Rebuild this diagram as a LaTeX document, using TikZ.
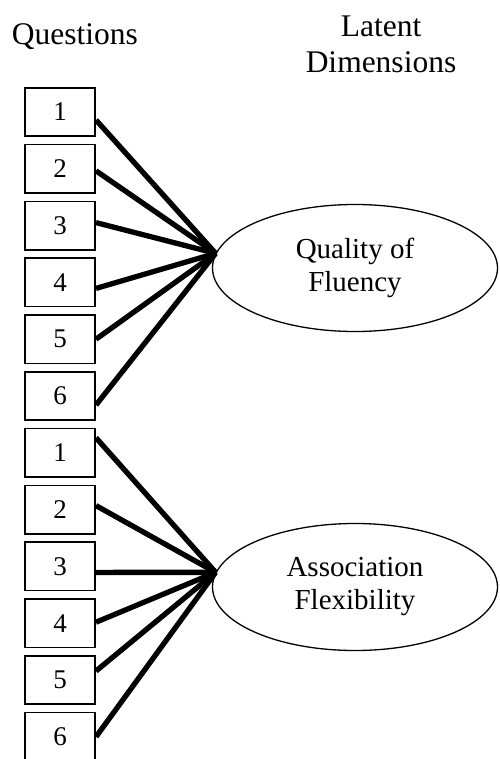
\documentclass[tikz,border=0pt]{standalone}
\usepackage{fontspec}
\setmainfont{Liberation Serif}
\usetikzlibrary{shapes.geometric}
\begin{document}
\begin{tikzpicture}[x=1pt,y=-1pt,
  qbox/.style={draw, line width=1.6pt, minimum width=70.4pt, minimum height=48.4pt, inner sep=0pt, font=\fontsize{27}{30}\selectfont},
  latent/.style={draw, ellipse, line width=1.3pt, minimum width=285pt, minimum height=127pt, inner sep=0pt, align=center, font=\fontsize{29}{33}\selectfont},
  head/.style={align=center, font=\fontsize{31.5}{36}\selectfont},
  load/.style={line width=5.3pt}]
\useasboundingbox (0,0) rectangle (499,759);
% headings
\node[head, anchor=base] (qh) at (75,45) {Questions};
\node[head, anchor=base] (lh) at (381,73) {Latent\\Dimensions};
% question boxes
\foreach \k/\t in {0/1,1/2,2/3,3/4,4/5,5/6}{
  \node[qbox] (a\t) at (60,{112+56.8*\k}) {\t};
}
\foreach \k/\t in {6/1,7/2,8/3,9/4,10/5,11/6}{
  \node[qbox] (b\t) at (60,{112+56.8*\k}) {\t};
}
% latent dimensions
\node[latent] (e1) at (355,268) {Quality of\\Fluency};
\node[latent] (e2) at (355,587) {Association\\Flexibility};
% loadings
\foreach \i/\o in {1/-8,2/-2,3/3,4/-6,5/0,6/-9}{
  \draw[load] ([yshift=\o pt]a\i.east) -- (e1.174);
}
\foreach \i/\o in {1/15,2/4,3/-6,4/1,5/9,6/0}{
  \draw[load] ([yshift=\o pt]b\i.east) -- (e2.174);
}
\end{tikzpicture}
\end{document}
